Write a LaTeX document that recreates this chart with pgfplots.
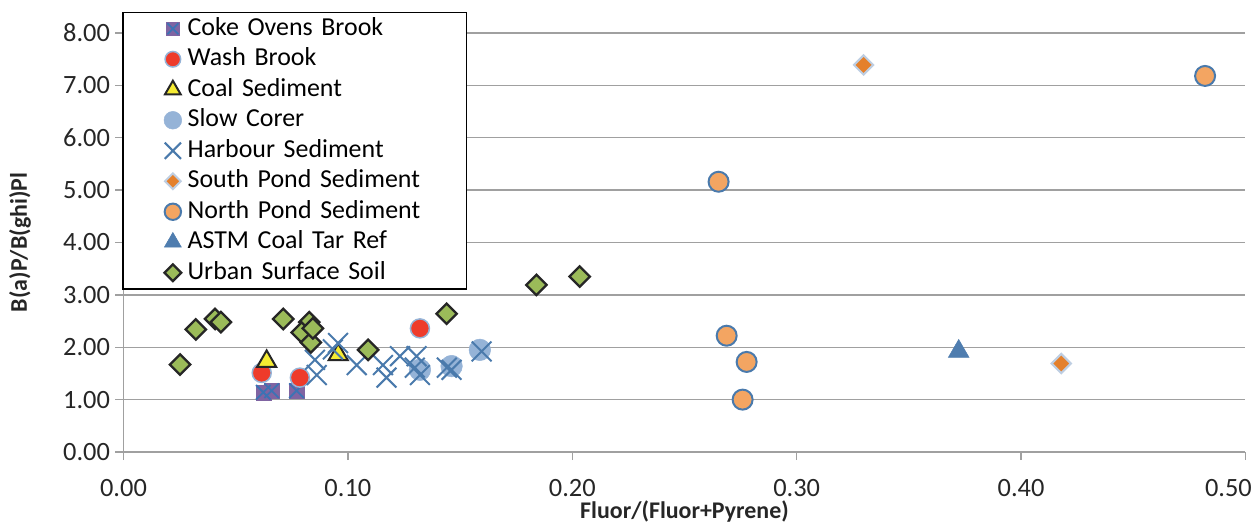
\documentclass[border=0pt]{standalone}
\usepackage{fontspec}
\setmainfont{Carlito}
\usepackage{pgfplots}
\pgfplotsset{compat=1.18}

\definecolor{gridgray}{RGB}{160,160,160}
\definecolor{cobpurple}{RGB}{128,100,162}
\definecolor{xblue}{RGB}{74,122,172}
\definecolor{coxblue}{RGB}{60,115,180}
\definecolor{washred}{RGB}{238,59,43}
\definecolor{lightedge}{RGB}{149,179,215}
\definecolor{coalyellow}{RGB}{245,235,50}
\definecolor{slowblue}{RGB}{149,179,215}
\definecolor{southorange}{RGB}{228,128,44}
\definecolor{southedge}{RGB}{190,206,226}
\definecolor{northorange}{RGB}{243,165,98}
\definecolor{northedge}{RGB}{74,122,172}
\definecolor{astmblue}{RGB}{79,125,175}
\definecolor{urbangreen}{RGB}{155,187,89}

\begin{document}
\begin{tikzpicture}
\begin{axis}[
  scale only axis, width=1122bp, height=419bp,
  xmin=0, xmax=0.5, ymin=0, ymax=8,
  xtick={0,0.1,0.2,0.3,0.4}, ytick={0,1,2,3,4,5,6,7,8},
  extra x ticks={0.5},
  extra x tick style={xticklabel style={xshift=-17bp}},
  scaled ticks=false,
  /pgf/number format/fixed, /pgf/number format/fixed zerofill,
  /pgf/number format/precision=2,
  /pgf/number format/assume math mode=true,
  axis x line*=bottom, axis y line*=left,
  axis line style={gridgray, line width=1.5bp},
  tick style={gridgray, line width=1.5bp},
  major tick length=8bp, tick align=outside,
  ymajorgrids, grid style={gridgray, line width=1.5bp},
  ticklabel style={font=\fontsize{26.5}{30}\selectfont, text=black!85},
  xticklabel style={anchor=center, yshift=-28bp},
  yticklabel style={anchor=east, xshift=-2bp},
  xlabel={Fluor/(Fluor+Pyrene)},
  ylabel={B(a)P/B(ghi)Pl},
  every axis x label/.style={at={(axis description cs:0.5,-0.143)}, anchor=center,
    font=\bfseries\fontsize{24}{28}\selectfont, text=black!85},
  every axis y label/.style={at={(axis description cs:-0.0922,0.5)}, rotate=90, anchor=center,
    font=\bfseries\fontsize{24}{28}\selectfont, text=black!85},
  clip=false,
  every axis plot/.append style={only marks},
  legend image code/.code={\draw[mark repeat=2,mark phase=2,#1,every mark/.append style={scale=0.82}] plot coordinates {(0bp,0bp) (12bp,0bp) (24bp,0bp)};},
  legend cell align=left,
  legend style={at={(-0.001,1.0507)}, anchor=north west, draw=black,
    line width=1.5bp, fill=white, inner xsep=37bp, inner ysep=1bp,
    row sep=0bp,
    font=\fontsize{26}{30}\selectfont,
    nodes={inner xsep=2bp, inner ysep=2.75bp, text height=19bp, text depth=6bp, text width=240bp, align=left}},
]
\coordinate (o) at (axis cs:0,0);

% Coke Ovens Brook: purple square with a blue cross over it
\addplot[mark=square*, mark size=7.5bp, mark options={fill=cobpurple, draw=cobpurple, line width=0.3bp},
  legend image code/.code={%
    \path (0bp,0bp) (24bp,0bp);
    \fill[cobpurple] (6bp,-6bp) rectangle (18bp,6bp);
    \draw[coxblue, line width=1.8bp] (6.5bp,-5.5bp) -- (17.5bp,5.5bp) (6.5bp,5.5bp) -- (17.5bp,-5.5bp);}]
  coordinates {(0.0623,1.14) (0.0660,1.17) (0.0771,1.17)};
\addlegendentry{Coke Ovens Brook}
\addplot[forget plot, mark=x, mark size=10.3bp, mark options={draw=coxblue, line width=1.8bp}]
  coordinates {(0.0623,1.14) (0.0660,1.17) (0.0771,1.17)};

\addplot[mark=*, mark size=9.5bp, mark options={fill=washred, draw=lightedge, line width=1.5bp}]
  coordinates {(0.0616,1.51) (0.0786,1.42) (0.1321,2.36)};
\addlegendentry{Wash Brook}

\addplot[mark=triangle*, mark size=11bp, mark options={fill=coalyellow, draw=black!85, line width=2bp}]
  coordinates {(0.0638,1.73) (0.0957,1.86)};
\addlegendentry{Coal Sediment}

\addplot[mark=*, mark size=10.8bp, mark options={fill=slowblue, draw=slowblue, line width=0.5bp}]
  coordinates {(0.1321,1.57) (0.1462,1.64) (0.1588,1.95)};
\addlegendentry{Slow Corer}

\addplot[mark=x, mark size=14bp, mark options={draw=xblue, line width=2bp}]
  coordinates {
  (0.0853,1.76) (0.0861,1.47) (0.0956,2.08) (0.0933,1.96)
  (0.1039,1.66) (0.1156,1.66) (0.1172,1.42) (0.1232,1.83)
  (0.1306,1.83) (0.1298,1.61) (0.1321,1.47) (0.1441,1.61)
  (0.1462,1.57) (0.1596,1.92)};
\addlegendentry{Harbour Sediment}

\addplot[mark=square*, mark size=6.8bp, mark options={rotate=45, fill=southorange, draw=southedge, line width=2bp}]
  coordinates {(0.3298,7.39) (0.4179,1.69)};
\addlegendentry{South Pond Sediment}

\addplot[mark=*, mark size=10bp, mark options={fill=northorange, draw=northedge, line width=2bp}]
  coordinates {(0.2652,5.16) (0.4820,7.18) (0.2688,2.22) (0.2777,1.72) (0.2759,1.00)};
\addlegendentry{North Pond Sediment}

\addplot[mark=triangle*, mark size=12bp, mark options={fill=astmblue, draw=astmblue, line width=0.5bp}]
  coordinates {(0.3722,1.92)};
\addlegendentry{ASTM Coal Tar Ref}

\addplot[mark=square*, mark size=7.2bp, mark options={rotate=45, fill=urbangreen, draw=black!85, line width=2.3bp}]
  coordinates {
  (0.0252,1.67) (0.0322,2.34) (0.0408,2.54) (0.0434,2.48)
  (0.0712,2.54) (0.0828,2.48) (0.0794,2.28) (0.0835,2.09)
  (0.0844,2.36) (0.1090,1.95) (0.1440,2.64) (0.1840,3.19)
  (0.2033,3.35)};
\addlegendentry{Urban Surface Soil}
\end{axis}
\pgfresetboundingbox
\path[use as bounding box] (o) ++(-123.5bp,-72bp) rectangle ++(1257bp,524bp);
\end{tikzpicture}
\end{document}
